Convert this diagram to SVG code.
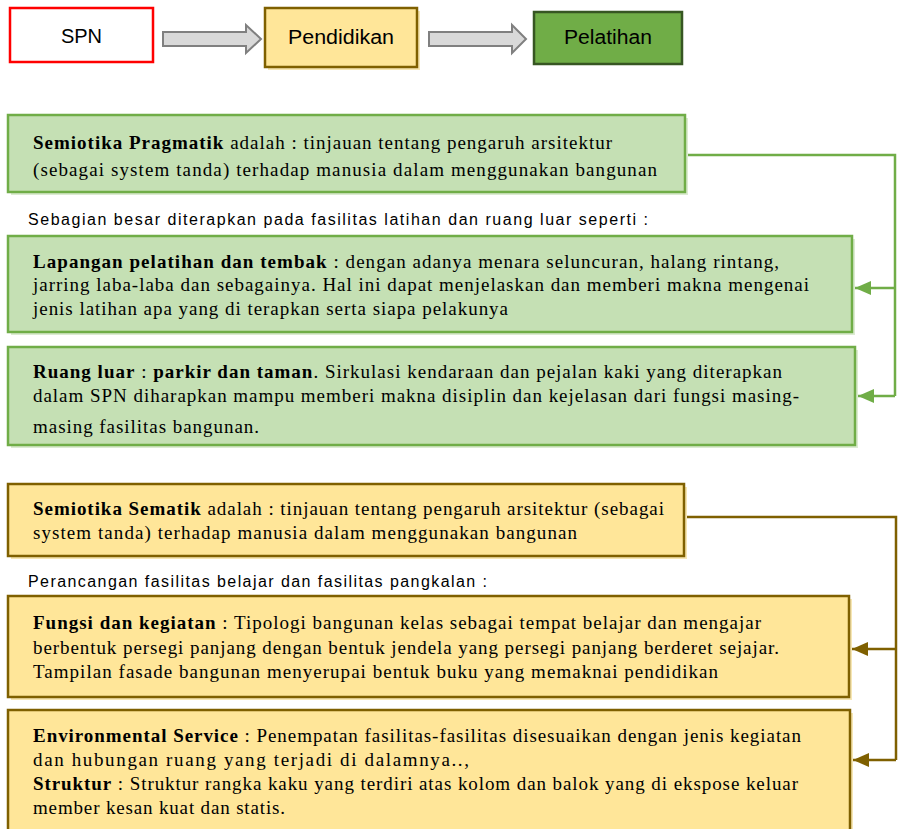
<svg xmlns="http://www.w3.org/2000/svg" width="902" height="829" viewBox="0 0 902 829">
<defs>
<style>
.lbl{font-family:"Liberation Sans",Arial,sans-serif;font-size:20px;fill:#000;text-anchor:middle}
.sans{font-family:"Liberation Sans",Arial,sans-serif;font-size:16px;fill:#000}
.body{font-family:"Liberation Serif","Times New Roman",serif;font-size:19px;fill:#000}
.b{font-weight:bold}
.gbox{fill:#c5e0b4;stroke:#70ad47;stroke-width:2.5}
.ybox{fill:#ffe699;stroke:#7f6000;stroke-width:2.5}
.gsh{fill:#dcebd2}
.ysh{fill:#f7e7b5}
.blk{fill:#d9d9d9;stroke:#808080;stroke-width:2}
.gline{fill:none;stroke:#70ad47;stroke-width:2.5}
.yline{fill:none;stroke:#7f6000;stroke-width:2.5}
</style>
<marker id="ag" markerUnits="userSpaceOnUse" viewBox="0 0 16 14" markerWidth="16" markerHeight="14" refX="16" refY="7" orient="auto">
<path d="M0,0 L16,7 L0,14 Z" fill="#70ad47"/>
</marker>
<marker id="ay" markerUnits="userSpaceOnUse" viewBox="0 0 16 14" markerWidth="16" markerHeight="14" refX="16" refY="7" orient="auto">
<path d="M0,0 L16,7 L0,14 Z" fill="#7f6000"/>
</marker>
</defs>
<rect width="902" height="829" fill="#fff"/>

<g id="connectors">
<polygon class="blk" points="163,32 246,32 246,25 261,39 246,53 246,46 163,46"/>
<polygon class="blk" points="429,32 512,32 512,25 526,39 512,53 512,46 429,46"/>
<path class="gline" d="M685,155 H895 V396"/>
<path class="gline" d="M895,288 H855" marker-end="url(#ag)"/>
<path class="gline" d="M895,396 H858" marker-end="url(#ag)"/>
<path class="yline" d="M684,517 H896 V760"/>
<path class="yline" d="M896,649 H852" marker-end="url(#ay)"/>
<path class="yline" d="M896,760 H853" marker-end="url(#ay)"/>
</g>

<g id="spn">
<rect x="10" y="8" width="143" height="54" fill="#fff" stroke="#ff0000" stroke-width="2.5"/>
<text class="lbl" x="81.5" y="43">SPN</text>
</g>
<g id="pendidikan">
<rect x="268" y="11" width="152" height="59" class="ysh"/>
<rect x="265" y="8" width="152" height="59" class="ybox"/>
<text class="lbl" x="341" y="44" textLength="106" lengthAdjust="spacingAndGlyphs">Pendidikan</text>
</g>
<g id="pelatihan">
<rect x="534" y="12" width="148" height="52" fill="#70ad47" stroke="#375623" stroke-width="2.5"/>
<text class="lbl" x="608" y="44" textLength="88" lengthAdjust="spacingAndGlyphs">Pelatihan</text>
</g>

<g id="pragmatik">
<rect x="11" y="118" width="677" height="77" class="gsh"/>
<rect x="8" y="115" width="677" height="77" class="gbox"/>
<text class="body" x="33" y="149" textLength="579" lengthAdjust="spacing"><tspan class="b">Semiotika Pragmatik</tspan> adalah : tinjauan tentang pengaruh arsitektur</text>
<text class="body" x="33" y="176" textLength="624" lengthAdjust="spacing">(sebagai system tanda) terhadap manusia dalam menggunakan bangunan</text>
</g>

<g id="caption1">
<text class="sans" x="28" y="225" textLength="620" lengthAdjust="spacing">Sebagian besar diterapkan pada fasilitas latihan dan ruang luar seperti :</text>
</g>

<g id="lapangan">
<rect x="11" y="239" width="844" height="96" class="gsh"/>
<rect x="8" y="236" width="844" height="96" class="gbox"/>
<text class="body" x="33" y="268" textLength="746" lengthAdjust="spacing"><tspan class="b">Lapangan pelatihan dan tembak</tspan> : dengan adanya menara seluncuran, halang rintang,</text>
<text class="body" x="33" y="291" textLength="776" lengthAdjust="spacing">jarring laba-laba dan sebagainya. Hal ini dapat menjelaskan dan memberi makna mengenai</text>
<text class="body" x="33" y="315" textLength="475" lengthAdjust="spacing">jenis latihan apa yang di terapkan serta siapa pelakunya</text>
</g>

<g id="ruangluar">
<rect x="11" y="350" width="847" height="98" class="gsh"/>
<rect x="8" y="347" width="847" height="98" class="gbox"/>
<text class="body" x="33" y="378" textLength="749" lengthAdjust="spacing"><tspan class="b">Ruang luar</tspan> : <tspan class="b">parkir dan taman</tspan>. Sirkulasi kendaraan dan pejalan kaki yang diterapkan</text>
<text class="body" x="33" y="402" textLength="766" lengthAdjust="spacing">dalam SPN diharapkan mampu memberi makna disiplin dan kejelasan dari fungsi masing-</text>
<text class="body" x="33" y="433" textLength="226" lengthAdjust="spacing">masing fasilitas bangunan.</text>
</g>

<g id="sematik">
<rect x="11" y="487" width="676" height="72" class="ysh"/>
<rect x="8" y="484" width="676" height="72" class="ybox"/>
<text class="body" x="33" y="515" textLength="631" lengthAdjust="spacing"><tspan class="b">Semiotika Sematik</tspan> adalah : tinjauan tentang pengaruh arsitektur (sebagai</text>
<text class="body" x="33" y="539" textLength="544" lengthAdjust="spacing">system tanda) terhadap manusia dalam menggunakan bangunan</text>
</g>

<g id="caption2">
<text class="sans" x="28" y="587" textLength="459" lengthAdjust="spacing">Perancangan fasilitas belajar dan fasilitas pangkalan :</text>
</g>

<g id="fungsi">
<rect x="11" y="599" width="841" height="101" class="ysh"/>
<rect x="8" y="596" width="841" height="101" class="ybox"/>
<text class="body" x="33" y="629" textLength="728" lengthAdjust="spacing"><tspan class="b">Fungsi dan kegiatan</tspan> : Tipologi bangunan kelas sebagai tempat belajar dan mengajar</text>
<text class="body" x="33" y="654" textLength="746" lengthAdjust="spacing">berbentuk persegi panjang dengan bentuk jendela yang persegi panjang berderet sejajar.</text>
<text class="body" x="33" y="678" textLength="685" lengthAdjust="spacing">Tampilan fasade bangunan menyerupai bentuk buku yang memaknai pendidikan</text>
</g>

<g id="environmental">
<rect x="11" y="713" width="842" height="130" class="ysh"/>
<rect x="8" y="710" width="842" height="130" class="ybox"/>
<text class="body" x="33" y="742" textLength="768" lengthAdjust="spacing"><tspan class="b">Environmental Service</tspan> : Penempatan fasilitas-fasilitas disesuaikan dengan jenis kegiatan</text>
<text class="body" x="33" y="766" textLength="436" lengthAdjust="spacing">dan hubungan ruang yang terjadi di dalamnya..,</text>
<text class="body" x="33" y="790" textLength="765" lengthAdjust="spacing"><tspan class="b">Struktur</tspan> : Struktur rangka kaku yang terdiri atas kolom dan balok yang di ekspose keluar</text>
<text class="body" x="33" y="814" textLength="252" lengthAdjust="spacing">member kesan kuat dan statis.</text>
</g>
</svg>
